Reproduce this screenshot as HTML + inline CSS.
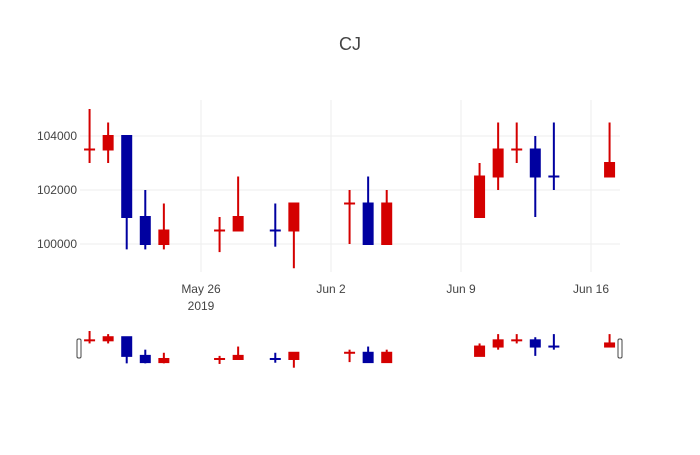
<!DOCTYPE html>
<html><head><meta charset="utf-8"><style>
body{margin:0;background:#fff}
svg{font-family:"Liberation Sans",sans-serif}
</style></head><body>
<svg id="chart" width="700" height="450" xmlns="http://www.w3.org/2000/svg">
<rect width="700" height="450" fill="#fff"/>
<text x="350" y="50" text-anchor="middle" font-size="18" fill="#444">CJ</text>
<g id="grid"></g><g id="main"></g><g id="xticks"></g><g id="yticks"></g><g id="slider"></g>
</svg>
<script>
const dates=["2019-05-20","2019-05-21","2019-05-22","2019-05-23","2019-05-24","2019-05-27","2019-05-28","2019-05-30","2019-05-31","2019-06-03","2019-06-04","2019-06-05","2019-06-10","2019-06-11","2019-06-12","2019-06-13","2019-06-14","2019-06-17"];
const opens=[103500,103500,104000,101000,100000,100500,100500,100500,100500,101500,101500,100000,101000,102500,103500,103500,102500,102500];
const highs=[105000,104500,104000,102000,101500,101000,102500,101500,101500,102000,102500,102000,103000,104500,104500,104000,104500,104500];
const lows=[103000,103000,99800,99800,99800,99700,100500,99900,99100,100000,100000,100000,101000,102000,103000,101000,102000,102500];
const closes=[103500,104000,101000,100000,100500,100500,101000,100500,101500,101500,100000,101500,102500,103500,103500,102500,102500,103000];
const yTicks=[100000,102000,104000];
const xTickDates=["2019-05-26","2019-06-02","2019-06-09","2019-06-16"];
const xTickLabels=["May 26","Jun 2","Jun 9","Jun 16"];

const NS="http://www.w3.org/2000/svg";
const DAY=86400000, x0=Date.UTC(2019,4,26);
function X(d){const t=Date.parse(d+"T00:00:00Z");return 201+(t-x0)/DAY*130/7;}
function Y(v){return 244-(v-100000)*27/1000;}
function SY(v){return 331+(105000-v)*36.7/5900;}
function el(tag,attrs,parent){const e=document.createElementNS(NS,tag);for(const k in attrs)e.setAttribute(k,attrs[k]);parent.appendChild(e);return e;}
const grid=document.getElementById('grid'),main=document.getElementById('main'),xt=document.getElementById('xticks'),yt=document.getElementById('yticks'),sl=document.getElementById('slider');
yTicks.forEach(v=>{
  const l=el('line',{x1:80,x2:620,y1:Y(v),y2:Y(v),stroke:'#eee','stroke-width':1},grid);
  
  
  const t=el('text',{x:77,y:Y(v)+4,'text-anchor':'end','font-size':12,fill:'#444'},yt);
  t.textContent=v;
  
  
});
xTickDates.forEach((d,i)=>{
  const l=el('line',{x1:X(d),x2:X(d),y1:100,y2:272,stroke:'#eee','stroke-width':1},grid);
  
  
  const t=el('text',{x:X(d),y:293,'text-anchor':'middle','font-size':12,fill:'#444'},xt);
  t.textContent=xTickLabels[i];
  
  
});
const yr=el('text',{x:X(xTickDates[0]),y:310,'text-anchor':'middle','font-size':12,fill:'#444'},xt);
yr.textContent="2019";



let prevColor='#d40000';
dates.forEach((d,i)=>{
  const o=opens[i],c=closes[i],h=highs[i],lo=lows[i];
  let col;
  if(c>o)col='#d40000';else if(c<o)col='#0000a0';
  else if(i>0&&c>closes[i-1])col='#d40000';else if(i>0&&c<closes[i-1])col='#0000a0';else col=prevColor;
  prevColor=col;
  const x=X(d),w=11;
  [[main,Y],[sl,SY]].forEach(([g,f],k)=>{
    const wk=el('line',{x1:x,x2:x,y1:f(h),y2:f(lo),stroke:col,'stroke-width':2},g);
    
    
    const top=f(Math.max(o,c)),bot=f(Math.min(o,c));
    const b=el('rect',{x:x-w/2,y:top-1,width:w,height:Math.max(bot-top,0)+2,fill:col},g);
    
    
  });
});
[79,620].forEach((hx,i)=>{
  const r=el('rect',{x:hx-2,y:339,width:4,height:19,rx:1.5,fill:'#fff',stroke:'#444','stroke-width':1},sl);
  
  
});
</script>
</body></html>
